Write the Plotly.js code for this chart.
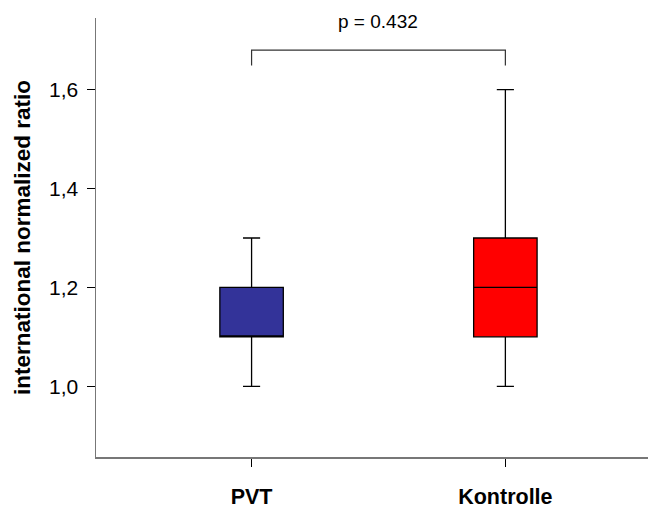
<!DOCTYPE html>
<html>
<head>
<meta charset="utf-8">
<script src="https://cdn.plot.ly/plotly-3.0.1.min.js"></script>
<style>html,body{margin:0;padding:0;background:#fff;}#chart{width:649px;height:510px;}</style>
</head>
<body>
<div id="chart"></div>
<script>
const categories = ['PVT', 'Kontrolle'];
const lowerfence = [1.0, 1.0];
const q1 = [1.1, 1.1];
const median = [1.1, 1.2];
const q3 = [1.2, 1.3];
const upperfence = [1.3, 1.6];
const fillColors = ['#333399', '#ff0000'];
const tickVals = [1.0, 1.2, 1.4, 1.6];
const tickText = ['1,0', '1,2', '1,4', '1,6'];
const pText = 'p = 0.432';
const bracketTop = 1.68;
const bracketLeg = 1.649;
const pTextY = 1.737;

const traces = categories.map((c, i) => ({
  type: 'box',
  x: [c],
  lowerfence: [lowerfence[i]],
  q1: [q1[i]],
  median: [median[i]],
  q3: [q3[i]],
  upperfence: [upperfence[i]],
  fillcolor: fillColors[i],
  line: {color: '#000000', width: 1.3},
  width: 0.25,
  whiskerwidth: 0.27,
  boxpoints: false,
  hoverinfo: 'skip',
  showlegend: false
}));

const layout = {
  width: 649,
  height: 510,
  margin: {l: 96, r: 1, t: 18, b: 53},
  paper_bgcolor: '#ffffff',
  plot_bgcolor: '#ffffff',
  font: {family: 'Liberation Sans, Arial, sans-serif', color: '#000000'},
  xaxis: {
    type: 'category',
    categoryorder: 'array',
    categoryarray: categories,
    range: [-0.613, 1.562],
    showline: true,
    linecolor: '#777777',
    linewidth: 1.5,
    ticks: 'outside',
    ticklen: 8,
    tickcolor: '#000000',
    tickwidth: 1,
    showgrid: false,
    zeroline: false,
    tickfont: {size: 21.5, family: 'Liberation Sans, Arial, sans-serif', weight: 'bold'},
    ticklabelstandoff: 12
  },
  yaxis: {
    range: [0.857, 1.745],
    tickvals: tickVals,
    ticktext: tickText,
    showline: true,
    linecolor: '#777777',
    linewidth: 1.5,
    ticks: 'outside',
    ticklen: 8,
    tickcolor: '#000000',
    tickwidth: 1,
    showgrid: false,
    zeroline: false,
    tickfont: {size: 21},
    ticklabelstandoff: 4,
    title: {text: '<b>international normalized ratio</b>', font: {size: 22.5}, standoff: 12}
  },
  shapes: [{
    type: 'path',
    xref: 'x', yref: 'y',
    path: `M 0,${bracketLeg} L 0,${bracketTop} L 1,${bracketTop} L 1,${bracketLeg}`,
    line: {color: '#333333', width: 1.2}
  }],
  annotations: [{
    xref: 'x', yref: 'y',
    x: 0.5, y: pTextY,
    text: pText,
    showarrow: false,
    font: {size: 19}
  }]
};

Plotly.newPlot('chart', traces, layout, {displayModeBar: false, staticPlot: true});
</script>
</body>
</html>
